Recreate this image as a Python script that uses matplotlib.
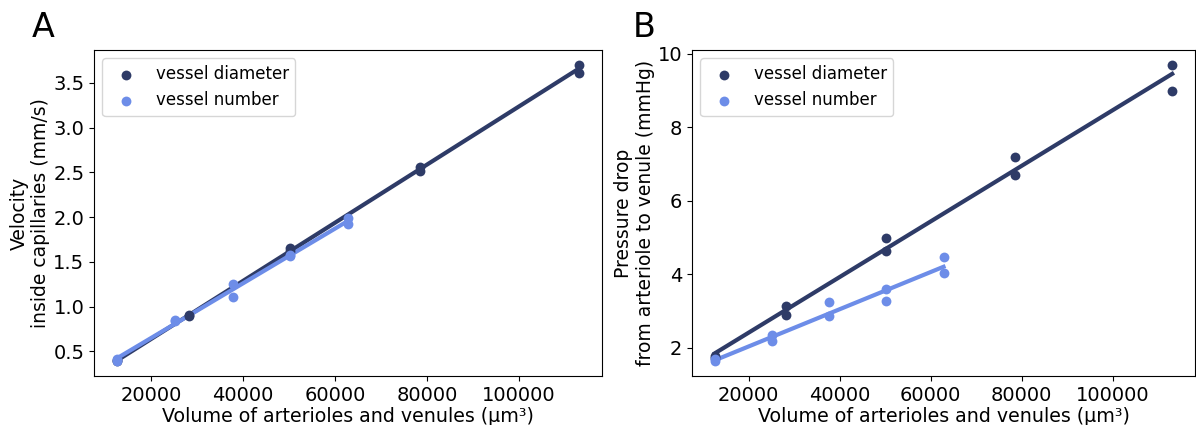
import numpy as np
import matplotlib
matplotlib.use("Agg")
import matplotlib.pyplot as plt

# volumes (um^3) for each scaling experiment, two samples each
vol_diameter = [12566, 12566, 28274, 28274, 50265, 50265, 78540, 78540, 113097, 113097]
vol_number = [12566, 12566, 25133, 25133, 37699, 37699, 50265, 50265, 62832, 62832]

# panel A: velocity inside capillaries (mm/s)
vel_diameter = [0.39, 0.40, 0.91, 0.89, 1.65, 1.62, 2.56, 2.51, 3.70, 3.61]
vel_number = [0.39, 0.41, 0.85, 0.84, 1.25, 1.11, 1.56, 1.58, 1.99, 1.92]

# panel B: pressure drop from arteriole to venule (mmHg)
dp_diameter = [1.72, 1.78, 3.14, 2.90, 4.99, 4.62, 7.20, 6.71, 9.70, 8.98]
dp_number = [1.63, 1.68, 2.35, 2.17, 3.23, 2.85, 3.60, 3.27, 4.46, 4.04]

series_labels = ["vessel diameter", "vessel number"]
colors = ["#2e3b67", "#6d8de8"]

xlabel = "Volume of arterioles and venules (\u00b5m\u00b3)"
ylabels = ["Velocity\ninside capillaries (mm/s)",
           "Pressure drop\nfrom arteriole to venule (mmHg)"]
panel_letters = ["A", "B"]

plt.rcParams["font.family"] = ["DejaVu Sans"]
plt.rcParams["font.size"] = 14

fig = plt.figure(figsize=(11.96, 4.25), dpi=100)
ax_a = fig.add_axes([0.0786, 0.1153, 0.4247, 0.767])
ax_b = fig.add_axes([0.5786, 0.1153, 0.4206, 0.767])


def draw_panel(ax, ys_diam, ys_num, ylabel):
    for x, y, c, lab in [(vol_diameter, ys_diam, colors[0], series_labels[0]),
                         (vol_number, ys_num, colors[1], series_labels[1])]:
        x = np.asarray(x, float)
        y = np.asarray(y, float)
        ax.scatter(x, y, s=50, color=c, label=lab, zorder=3, linewidths=0)
        # least squares fit drawn over the data range
        k, b = np.polyfit(x, y, 1)
        xx = np.array([x.min(), x.max()])
        ax.plot(xx, k * xx + b, color=c, lw=3, zorder=2)
    ax.set_xlabel(xlabel, fontsize=13.7, labelpad=2)
    ax.set_ylabel(ylabel, fontsize=13.5, labelpad=2)
    ax.tick_params(labelsize=14)
    ax.legend(loc="upper left", fontsize=12)


draw_panel(ax_a, vel_diameter, vel_number, ylabels[0])
draw_panel(ax_b, dp_diameter, dp_number, ylabels[1])
ax_a.set_yticks([0.5, 1.0, 1.5, 2.0, 2.5, 3.0, 3.5])
ax_b.set_yticks([2, 4, 6, 8, 10])

fig.text(0.036, 0.935, panel_letters[0], fontsize=24, ha="center", va="center")
fig.text(0.539, 0.935, panel_letters[1], fontsize=24, ha="center", va="center")

fig.savefig("out.png", dpi=100)
